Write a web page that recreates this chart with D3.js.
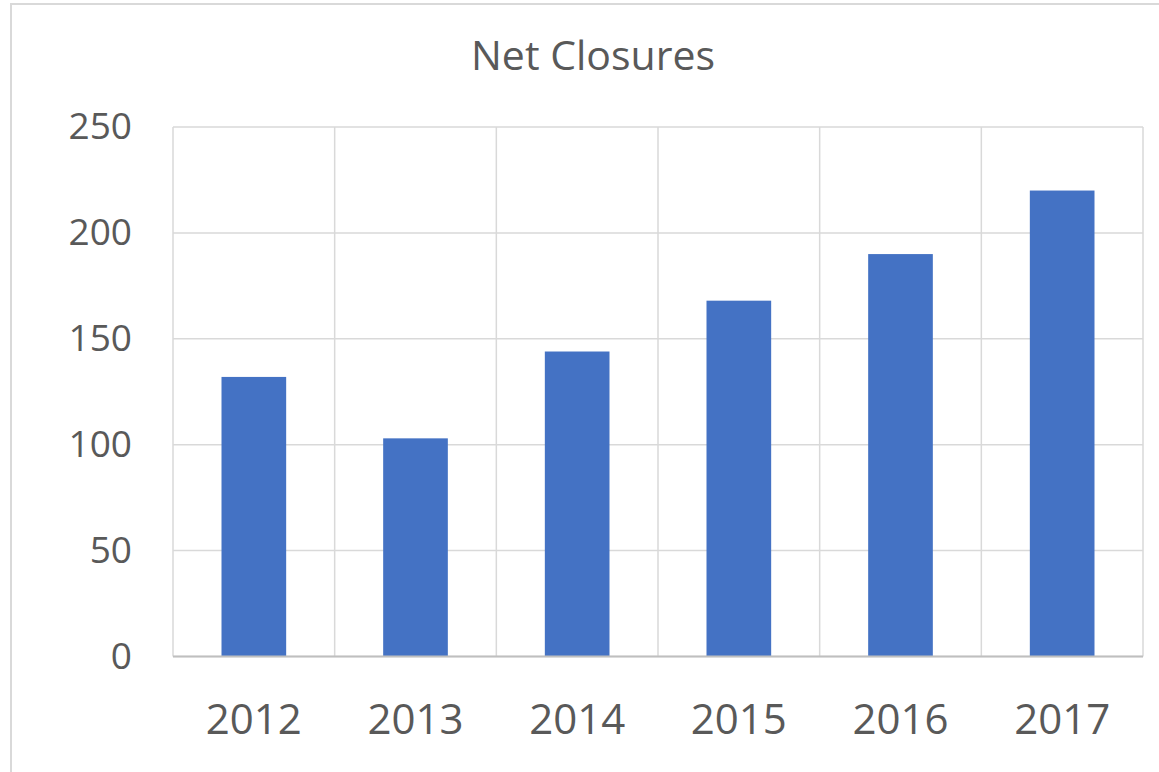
<!DOCTYPE html>
<html><head><meta charset="utf-8">
<script src="https://cdn.jsdelivr.net/npm/d3@7"></script>
<style>body{margin:0;background:#fff;}svg{display:block;}</style>
</head><body>
<svg id="c" width="1159" height="772"></svg>
<script>
const categories = ["2012","2013","2014","2015","2016","2017"];
const values = [132, 103, 144, 168, 190, 220];
const yTicks = [0, 50, 100, 150, 200, 250];
const title = "Net Closures";

const svg = d3.select("#c");
const font = "'Open Sans', sans-serif";
const m = {left:173, right:1143, top:127, bottom:656.5};

svg.append("rect").attr("x",11).attr("y",4).attr("width",1170).attr("height",800)
  .attr("fill","#fff").attr("stroke","#d9d9d9").attr("stroke-width",2);

const x = d3.scaleBand().domain(categories).range([m.left, m.right]).paddingInner(0.6).paddingOuter(0.3);
const xb = d3.scaleBand().domain(categories).range([m.left, m.right]);
const y = d3.scaleLinear().domain([0,250]).range([m.bottom, m.top]);

svg.append("g").selectAll("line").data(yTicks).join("line")
  .attr("x1",m.left).attr("x2",m.right).attr("y1",d=>y(d)).attr("y2",d=>y(d))
  .attr("stroke","#d9d9d9").attr("stroke-width",1.5);
const bounds = categories.map(c=>xb(c)).concat([m.right]);
svg.append("g").selectAll("line").data(bounds).join("line")
  .attr("x1",d=>d).attr("x2",d=>d).attr("y1",m.top).attr("y2",m.bottom)
  .attr("stroke","#d9d9d9").attr("stroke-width",1.5);

svg.append("g").selectAll("rect").data(values).join("rect")
  .attr("x",(d,i)=>x(categories[i])).attr("width",x.bandwidth())
  .attr("y",d=>y(d)).attr("height",d=>y(0)-y(d)).attr("fill","#4472c4");

svg.append("line").attr("x1",m.left).attr("x2",m.right).attr("y1",m.bottom).attr("y2",m.bottom)
  .attr("stroke","#bfbfbf").attr("stroke-width",2);

const ya = svg.append("g").attr("transform",`translate(${m.left},0)`)
  .call(d3.axisLeft(y).tickValues(yTicks).tickSize(0).tickPadding(41));
ya.select(".domain").remove();
ya.selectAll("text").attr("font-family",font).attr("font-size",37).attr("fill","#595959");

const xa = svg.append("g").attr("transform",`translate(0,${m.bottom})`)
  .call(d3.axisBottom(xb).tickSize(0).tickPadding(0));
xa.select(".domain").remove();
xa.selectAll("text").attr("font-family",font).attr("font-size",42).attr("fill","#595959")
  .attr("dy",null).attr("y",77);

svg.append("text").attr("x",(m.left+m.right)/2 - 65).attr("y",70)
  .attr("text-anchor","middle").attr("font-family",font).attr("font-size",41)
  .attr("fill","#595959").text(title);
</script>
</body></html>
